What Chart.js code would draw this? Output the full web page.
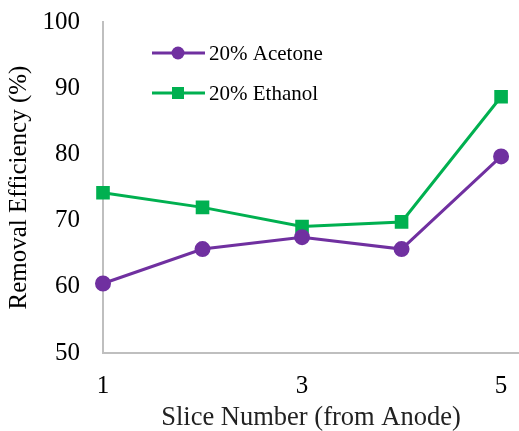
<!DOCTYPE html>
<html>
<head>
<meta charset="utf-8">
<script src="https://cdn.jsdelivr.net/npm/chart.js@4"></script>
<style>
  html, body { margin: 0; padding: 0; background: #fff; overflow: hidden; }
  #wrap { width: 519px; height: 431px; }
  canvas { display: block; }
</style>
</head>
<body>
<div id="wrap"><canvas id="plot"></canvas></div>
<script>
// datos
let slices = [1, 2, 3, 4, 5];
let acetona = [60.5, 65.7, 67.5, 65.7, 79.7];
let etanol = [74.2, 72.0, 69.1, 69.8, 88.7];
let xTicks = [1, 3, 5];
let yTicks = [50, 60, 70, 80, 90, 100];

let fuente = "'Liberation Serif', 'Times New Roman', serif";

let toPoints = (ys) => slices.map((x, i) => ({ x: x, y: ys[i] }));

let sinPadding = () => ({ left: 0, top: 0, right: 0, bottom: 0 });

// leyenda dibujada dentro del area del grafico
let leyendaInterna = {
  id: "leyendaInterna",
  afterDraw: (chart) => {
    let ctx = chart.ctx;
    let items = chart.data.datasets;
    ctx.save();
    items.forEach((ds, i) => {
      let y = 53 + i * 40;
      let x0 = 152, x1 = 205, xm = 178;
      ctx.strokeStyle = ds.borderColor;
      ctx.lineWidth = 3;
      ctx.beginPath();
      ctx.moveTo(x0, y);
      ctx.lineTo(x1, y);
      ctx.stroke();
      ctx.fillStyle = ds.backgroundColor;
      if (ds.pointStyle == "rect") {
        ctx.fillRect(xm - 6, y - 6, 12, 12);
      } else {
        ctx.beginPath();
        ctx.arc(xm, y, 6.5, 0, Math.PI * 2);
        ctx.fill();
      }
      ctx.fillStyle = "#000";
      ctx.font = "21px " + fuente;
      ctx.textBaseline = "middle";
      ctx.fillText(ds.label, 209, y + 1);
    });
    ctx.restore();
  },
};

let config = {
  type: "line",
  data: {
    datasets: [
      {
        label: "20% Acetone",
        data: toPoints(acetona),
        borderColor: "#7030A0",
        backgroundColor: "#7030A0",
        borderWidth: 3,
        pointStyle: "circle",
        pointRadius: 6.5,
        pointHoverRadius: 6.5,
        clip: false,
      },
      {
        label: "20% Ethanol",
        data: toPoints(etanol),
        borderColor: "#00B050",
        backgroundColor: "#00B050",
        borderWidth: 3,
        pointStyle: "rect",
        pointRadius: 7.5,
        pointHoverRadius: 7.5,
        clip: false,
      },
    ],
  },
  options: {
    responsive: true,
    maintainAspectRatio: false,
    animation: false,
    layout: { autoPadding: false, padding: { top: 22, right: 0, left: 0, bottom: 0 } },
    plugins: { legend: { display: false }, tooltip: { enabled: false } },
    scales: {
      x: {
        type: "linear",
        min: 1,
        max: 5.18,
        afterBuildTicks: (axis) => {
          axis.ticks = xTicks.map((v) => ({ value: v }));
        },
        afterFit: (axis) => {
          axis.height = 78;
          axis.paddingLeft = 0;
          axis.paddingRight = 0;
          axis.getPadding = sinPadding;
        },
        grid: { display: false, drawTicks: false },
        border: { color: "#BFBFBF", width: 2 },
        ticks: {
          color: "#000",
          font: { family: fuente, size: 25 },
          padding: 18,
          maxRotation: 0,
        },
        title: {
          display: true,
          text: "Slice Number (from Anode)",
          color: "#222",
          font: { family: fuente, size: 26.5 },
          padding: { top: 0, bottom: -3 },
        },
      },
      y: {
        min: 50,
        max: 100,
        afterBuildTicks: (axis) => {
          axis.ticks = yTicks.map((v) => ({ value: v }));
        },
        afterFit: (axis) => {
          axis.width = 103;
          axis.paddingTop = 0;
          axis.paddingBottom = 0;
          axis.getPadding = sinPadding;
        },
        grid: { display: false, drawTicks: false },
        border: { color: "#BFBFBF", width: 2 },
        ticks: {
          color: "#000",
          font: { family: fuente, size: 25 },
          padding: 23,
        },
        title: {
          display: true,
          text: "Removal Efficiency (%)",
          color: "#000",
          font: { family: fuente, size: 25 },
          padding: { top: 4, bottom: 0 },
        },
      },
    },
  },
  plugins: [leyendaInterna],
};

let chart1 = new Chart(document.getElementById("plot"), config);
</script>
</body>
</html>
